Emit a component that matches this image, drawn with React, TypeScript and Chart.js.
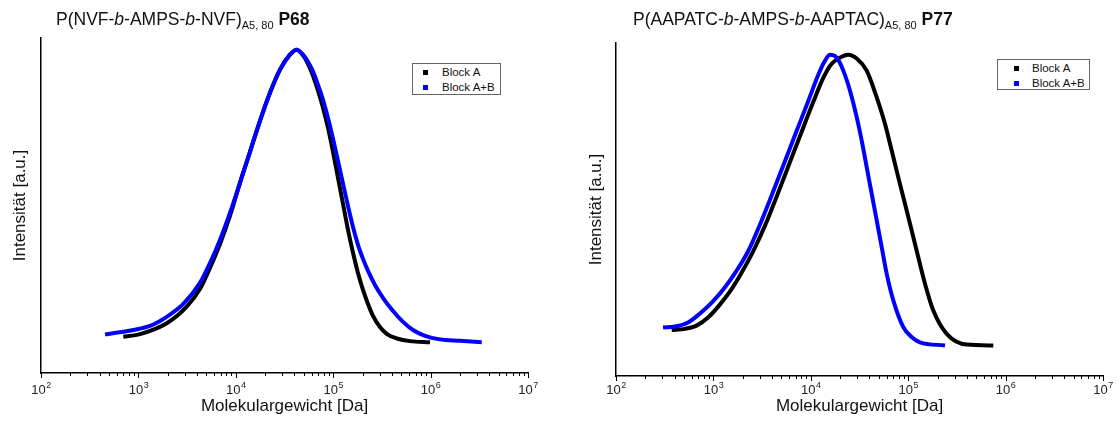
import React, { useEffect, useRef } from "react";
import { Chart, registerables } from "chart.js";

Chart.register(...registerables);
const FONT = '"Liberation Sans", Arial, sans-serif';
Chart.defaults.font.family = FONT;

// ---- axis ticks ----
const tickValues = [1e2, 1e3, 1e4, 1e5, 1e6, 1e7];
const tickBase = "10";
const tickExponents = ["2", "3", "4", "5", "6", "7"];
const minorMultipliers = [2, 3, 4, 5, 6, 7, 8, 9];

// ---- P68 : P(NVF-b-AMPS-b-NVF) ----
const p68BlockA_M = [700, 1038, 1954, 3133, 4285, 5430, 6880, 8710, 11040, 13990, 17710, 22440, 28440, 35980, 42170, 48980, 55090, 62050, 69820, 78570, 88430, 99540, 112000, 126100, 141900, 159700, 179700, 202300, 227700, 256300, 302000, 356600, 451900, 614700, 986000];
const p68BlockA_I = [0.019, 0.028, 0.065, 0.122, 0.182, 0.254, 0.336, 0.432, 0.545, 0.651, 0.757, 0.853, 0.932, 0.983, 1.0, 0.981, 0.952, 0.911, 0.86, 0.802, 0.733, 0.651, 0.562, 0.473, 0.384, 0.306, 0.237, 0.179, 0.131, 0.09, 0.052, 0.028, 0.013, 0.004, 0.0];

const p68BlockAB_M = [454, 647, 887, 1315, 1954, 2891, 4285, 5430, 6880, 8710, 11040, 13990, 17710, 22440, 28440, 35980, 42170, 48980, 55090, 62050, 69820, 78570, 88430, 99540, 112000, 126100, 141900, 159700, 179700, 202300, 227700, 268500, 324500, 401500, 508400, 659200, 876600, 1250000, 2005000, 3350000];
const p68BlockAB_I = [0.027, 0.034, 0.042, 0.056, 0.087, 0.131, 0.203, 0.271, 0.35, 0.442, 0.545, 0.651, 0.757, 0.853, 0.932, 0.983, 1.0, 0.983, 0.959, 0.925, 0.88, 0.829, 0.767, 0.696, 0.62, 0.542, 0.466, 0.394, 0.333, 0.285, 0.244, 0.196, 0.152, 0.111, 0.073, 0.042, 0.022, 0.01, 0.005, 0.0];

// ---- P77 : P(AAPATC-b-AMPS-b-AAPTAC) ----
const p77BlockA_M = [373, 511, 679, 881, 1142, 1481, 1920, 2551, 3387, 4498, 5973, 7932, 10540, 13350, 16120, 19030, 24270, 29810, 37490, 47500, 57790, 67700, 79130, 92700, 108600, 126900, 148800, 181000, 248500, 398700, 747500];
const p77BlockA_I = [0.053, 0.057, 0.069, 0.096, 0.137, 0.186, 0.247, 0.323, 0.412, 0.515, 0.622, 0.729, 0.835, 0.918, 0.966, 0.986, 1.0, 0.986, 0.945, 0.853, 0.762, 0.67, 0.578, 0.487, 0.395, 0.303, 0.212, 0.12, 0.04, 0.003, 0.0];

const p77BlockAB_M = [304, 404, 549, 729, 967, 1285, 1706, 2266, 3009, 3996, 5306, 7047, 9361, 11850, 13660, 15740, 18450, 21570, 25260, 29600, 33320, 37490, 42210, 47500, 53450, 60170, 70310, 89070, 106800, 132200, 238700];
const p77BlockAB_I = [0.062, 0.065, 0.079, 0.11, 0.148, 0.196, 0.254, 0.323, 0.416, 0.519, 0.625, 0.732, 0.838, 0.928, 0.973, 1.0, 0.99, 0.945, 0.876, 0.785, 0.704, 0.613, 0.521, 0.43, 0.338, 0.246, 0.155, 0.063, 0.031, 0.011, 0.0];

const seriesNames = ["Block A", "Block A+B"];
const seriesColors = ["#000000", "#0000ff"];
const xTitle = "Molekulargewicht [Da]";
const yTitle = "Intensität [a.u.]";

const toPoints = (m: number[], v: number[]) => m.map((x, i) => ({ x, y: v[i] }));

const logTicksPlugin = {
  id: "logTicks",
  afterDraw(chart: any) {
    const s = chart.scales.x;
    const ctx = chart.ctx;
    const y0 = chart.chartArea.bottom;
    ctx.save();
    ctx.strokeStyle = "#000";
    ctx.lineWidth = 1;
    tickValues.forEach((dec, k) => {
      const xs = Math.round(s.getPixelForValue(dec)) + 0.5;
      ctx.beginPath();
      ctx.moveTo(xs, y0);
      ctx.lineTo(xs, y0 + 5);
      ctx.stroke();
      if (k < tickValues.length - 1) {
        minorMultipliers.forEach((m) => {
          const xm = Math.round(s.getPixelForValue(dec * m)) + 0.5;
          ctx.beginPath();
          ctx.moveTo(xm, y0);
          ctx.lineTo(xm, y0 + 3);
          ctx.stroke();
        });
      }
    });
    // tick labels: 10 with superscript exponent
    const baseY = 394;
    ctx.fillStyle = "#222";
    ctx.textBaseline = "alphabetic";
    ctx.textAlign = "left";
    tickValues.forEach((dec, k) => {
      const xs = s.getPixelForValue(dec);
      ctx.font = `13px ${FONT}`;
      const wb = ctx.measureText(tickBase).width;
      ctx.font = `9px ${FONT}`;
      const we = ctx.measureText(tickExponents[k]).width;
      const x0 = xs - (wb + we) / 2;
      ctx.font = `13px ${FONT}`;
      ctx.fillText(tickBase, x0, baseY);
      ctx.font = `9px ${FONT}`;
      ctx.fillText(tickExponents[k], x0 + wb + 0.5, baseY - 6);
    });
    ctx.restore();
  },
};

type PanelProps = {
  left: number;
  width: number;
  yScaleWidth: number;
  padTop: number;
  padRight: number;
  xScaleHeight: number;
  yTitlePad: number;
  a: { m: number[]; v: number[] };
  ab: { m: number[]; v: number[] };
};

function Panel(p: PanelProps) {
  const ref = useRef<HTMLCanvasElement | null>(null);
  useEffect(() => {
    if (!ref.current) return;
    const chart = new Chart(ref.current, {
      type: "scatter",
      data: {
        datasets: [
          {
            label: seriesNames[1],
            data: toPoints(p.ab.m, p.ab.v),
            showLine: true,
            borderColor: seriesColors[1],
            backgroundColor: seriesColors[1],
            borderWidth: 4,
            pointRadius: 0,
            cubicInterpolationMode: "monotone",
          },
          {
            label: seriesNames[0],
            data: toPoints(p.a.m, p.a.v),
            showLine: true,
            borderColor: seriesColors[0],
            backgroundColor: seriesColors[0],
            borderWidth: 4,
            pointRadius: 0,
            cubicInterpolationMode: "monotone",
          },
        ],
      },
      options: {
        animation: false,
        responsive: false,
        maintainAspectRatio: false,
        layout: { padding: { top: p.padTop, right: p.padRight, left: 0, bottom: 0 } },
        plugins: { legend: { display: false }, tooltip: { enabled: false }, title: { display: false } },
        scales: {
          x: {
            type: "logarithmic",
            min: 100,
            max: 1e7,
            afterBuildTicks: (s: any) => {
              s.ticks = tickValues.map((v) => ({ value: v }));
            },
            afterFit: (s: any) => {
              s.height = p.xScaleHeight;
            },
            ticks: { display: false },
            grid: { display: false, drawTicks: false },
            border: { display: true, color: "#000", width: 1.5 },
            title: { display: true, text: xTitle, color: "#111", font: { size: 17 }, padding: { top: 0, bottom: 10 } },
          },
          y: {
            min: -0.105,
            max: 1.04,
            afterFit: (s: any) => {
              s.width = p.yScaleWidth;
            },
            ticks: { display: false },
            grid: { display: false, drawTicks: false },
            border: { display: true, color: "#000", width: 1.5 },
            title: { display: true, text: yTitle, color: "#111", font: { size: 17 }, padding: { top: p.yTitlePad, bottom: 0 } },
          },
        },
      } as any,
      plugins: [logTicksPlugin],
    });
    return () => chart.destroy();
  }, []);
  return (
    <canvas
      ref={ref}
      width={p.width}
      height={427}
      style={{ position: "absolute", left: p.left, top: 0, width: p.width, height: 427 }}
    />
  );
}

function Legend(props: { left: number; top: number; width: number; height: number; markX: number; textX: number }) {
  const rows = [
    { name: seriesNames[0], color: seriesColors[0], y: 8.4 },
    { name: seriesNames[1], color: seriesColors[1], y: 23 },
  ];
  return (
    <div
      style={{
        position: "absolute",
        left: props.left,
        top: props.top,
        width: props.width,
        height: props.height,
        border: "1px solid #666",
        boxSizing: "border-box",
        background: "#fff",
      }}
    >
      {rows.map((r) => (
        <React.Fragment key={r.name}>
          <div
            style={{
              position: "absolute",
              left: props.markX - 2.5,
              top: r.y - 2.5,
              width: 5,
              height: 5,
              background: r.color,
            }}
          />
          <div
            style={{
              position: "absolute",
              left: props.textX,
              top: r.y - 7,
              fontSize: 11.5,
              lineHeight: "14px",
              color: "#111",
              whiteSpace: "nowrap",
            }}
          >
            {r.name}
          </div>
        </React.Fragment>
      ))}
    </div>
  );
}

function Title(props: { left: number; pre: string; mid: string; post: string; code: string }) {
  return (
    <div
      style={{
        position: "absolute",
        left: props.left,
        top: 9,
        fontSize: 17.5,
        lineHeight: "21px",
        color: "#111",
        whiteSpace: "nowrap",
      }}
    >
      {props.pre}-<i>b</i>-{props.mid}-<i>b</i>-{props.post}
      <span style={{ fontSize: 11, position: "relative", top: 4, lineHeight: 0 }}>A5, 80</span>{" "}
      <b>{props.code}</b>
    </div>
  );
}

export default function App() {
  return (
    <div
      style={{
        position: "absolute",
        left: 0,
        top: 0,
        width: 1118,
        height: 427,
        background: "#fff",
        overflow: "hidden",
        fontFamily: FONT,
      }}
    >
      <Panel
        left={0}
        width={560}
        yScaleWidth={41}
        padTop={38}
        padRight={32}
        xScaleHeight={54}
        yTitlePad={10}
        a={{ m: p68BlockA_M, v: p68BlockA_I }}
        ab={{ m: p68BlockAB_M, v: p68BlockAB_I }}
      />
      <Panel
        left={560}
        width={558}
        yScaleWidth={56}
        padTop={43}
        padRight={15}
        xScaleHeight={51}
        yTitlePad={26}
        a={{ m: p77BlockA_M, v: p77BlockA_I }}
        ab={{ m: p77BlockAB_M, v: p77BlockAB_I }}
      />
      <Title left={56} pre="P(NVF" mid="AMPS" post="NVF)" code="P68" />
      <Title left={633} pre="P(AAPATC" mid="AMPS" post="AAPTAC)" code="P77" />
      <Legend left={412} top={63} width={89} height={32} markX={12} textX={29} />
      <Legend left={997} top={59} width={93} height={31} markX={18} textX={34} />
    </div>
  );
}
